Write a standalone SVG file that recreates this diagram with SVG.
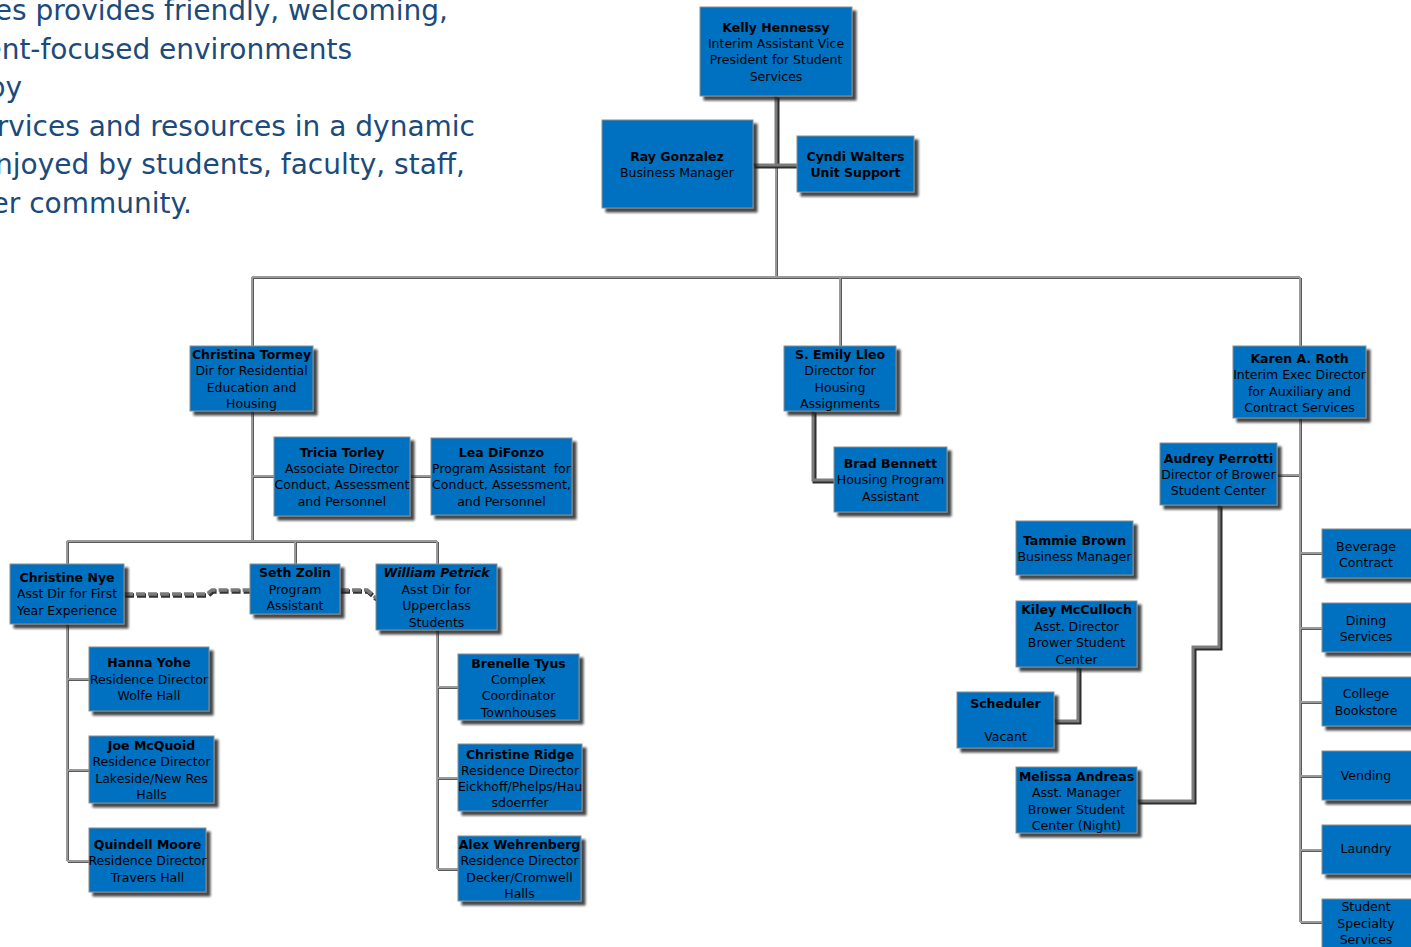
<svg xmlns="http://www.w3.org/2000/svg" width="1411" height="947" viewBox="0 0 1411 947">
  <defs>
    <filter id="sh" x="-10%" y="-10%" width="130%" height="130%">
      <feDropShadow dx="4" dy="4" stdDeviation="1.2" flood-color="#1a1a1a" flood-opacity="0.8"/>
    </filter>
  </defs>
  <style>
    .para { font-family: "DejaVu Sans", Verdana, sans-serif; font-size: 28px; fill: #1b4a7b; text-anchor: end; }
    .box { fill: #0070c0; stroke: #8c8c8c; stroke-width: 1; filter: url(#sh); }
    .t { font-family: "DejaVu Sans", Verdana, sans-serif; font-size: 12.5px; fill: #000; text-anchor: middle; }
    .b { font-weight: bold; }
    .bi { font-weight: bold; font-style: italic; }
    .thin-s { fill: none; stroke: #5a5a5a; stroke-width: 2; }
    .thin { fill: none; stroke: #9a9a9a; stroke-width: 2; }
    .thick-s { fill: none; stroke: #2e2e2e; stroke-width: 4; }
    .thick { fill: none; stroke: #7c7c7c; stroke-width: 3; }
    .dash-s { fill: none; stroke: #333; stroke-width: 4.5; stroke-dasharray: 9 3; }
    .dash { fill: none; stroke: #7a7a7a; stroke-width: 3.5; stroke-dasharray: 9 3; }
  </style>

  <!-- mission statement paragraph -->
  <g id="mission">
    <text class="para" x="448" y="20">es provides friendly, welcoming,</text>
    <text class="para" x="352" y="58.5">ent-focused environments</text>
    <text class="para" x="22" y="97">by</text>
    <text class="para" x="475" y="135.5">rvices and resources in a dynamic</text>
    <text class="para" x="465" y="174">njoyed by students, faculty, staff,</text>
    <text class="para" x="192" y="212.5">er community.</text>
  </g>

  <!-- connectors -->
  <g id="connectors">
    <g transform="translate(1,1)">
      <path class="thin-s" d="M776 165 V277 M252 277 H1300 M252 277 V346 M840 277 V346 M1300 277 V346 M252 411 V541 M252 476 H274 M410 476 H431 M67 541 H437 M67 541 V564 M295 541 V564 M437 541 V564 M67 624 V861 M67 679 H89 M67 770 H89 M67 861 H89 M437 630 V869 M437 687 H458 M437 778 H458 M437 869 H458 M1300 418 V922 M1277 475 H1300 M1300 553 H1322 M1300 628 H1322 M1300 702 H1322 M1300 776 H1322 M1300 850 H1322 M1300 922 H1322"/>
    </g>
    <path class="thin" d="M776 165 V277 M252 277 H1300 M252 277 V346 M840 277 V346 M1300 277 V346 M252 411 V541 M252 476 H274 M410 476 H431 M67 541 H437 M67 541 V564 M295 541 V564 M437 541 V564 M67 624 V861 M67 679 H89 M67 770 H89 M67 861 H89 M437 630 V869 M437 687 H458 M437 778 H458 M437 869 H458 M1300 418 V922 M1277 475 H1300 M1300 553 H1322 M1300 628 H1322 M1300 702 H1322 M1300 776 H1322 M1300 850 H1322 M1300 922 H1322"/>

    <g transform="translate(1.5,1.5)">
      <path class="thick-s" d="M776 96 V165 M753 165 H797 M813 411 V480 H834 M1078 667 V721 H1054 M1219 505 V647 H1193 V801 H1137"/>
    </g>
    <path class="thick" d="M776 96 V165 M753 165 H797 M813 411 V480 H834 M1078 667 V721 H1054 M1219 505 V647 H1193 V801 H1137"/>

    <g transform="translate(1,1.5)">
      <path class="dash-s" d="M124 594 H207 L212 590 H250 M340 590 H367 L376 598"/>
    </g>
    <path class="dash" d="M124 594 H207 L212 590 H250 M340 590 H367 L376 598"/>
  </g>

  <!-- nodes -->
  <g id="kelly-hennessy">
    <rect class="box" x="700" y="7" width="152" height="89"/>
    <text class="t"><tspan class="b" x="776" y="31.5">Kelly Hennessy</tspan><tspan x="776" y="47.5">Interim Assistant Vice</tspan><tspan x="776" y="63.5">President for Student</tspan><tspan x="776" y="80.5">Services</tspan></text>
  </g>
  <g id="ray-gonzalez">
    <rect class="box" x="602" y="120" width="151" height="88"/>
    <text class="t"><tspan class="b" x="677" y="160.5">Ray Gonzalez</tspan><tspan x="677" y="176.5">Business Manager</tspan></text>
  </g>
  <g id="cyndi-walters">
    <rect class="box" x="797" y="136" width="117" height="56"/>
    <text class="t b"><tspan x="855.5" y="160.5">Cyndi Walters</tspan><tspan x="855.5" y="176.5">Unit Support</tspan></text>
  </g>

  <g id="christina-tormey">
    <rect class="box" x="190" y="346" width="123" height="65"/>
    <text class="t"><tspan class="b" x="251.5" y="358.5">Christina Tormey</tspan><tspan x="251.5" y="374.5">Dir for Residential</tspan><tspan x="251.5" y="391.5">Education and</tspan><tspan x="251.5" y="407.5">Housing</tspan></text>
  </g>
  <g id="tricia-torley">
    <rect class="box" x="274" y="437" width="136" height="79"/>
    <text class="t"><tspan class="b" x="342" y="456.5">Tricia Torley</tspan><tspan x="342" y="472.5">Associate Director</tspan><tspan x="342" y="488.5">Conduct, Assessment</tspan><tspan x="342" y="505.5">and Personnel</tspan></text>
  </g>
  <g id="lea-difonzo">
    <rect class="box" x="431" y="438" width="141" height="77"/>
    <text class="t"><tspan class="b" x="501.5" y="456.5">Lea DiFonzo</tspan><tspan x="501.5" y="472.5" xml:space="preserve">Program Assistant  for</tspan><tspan x="501.5" y="488.5">Conduct, Assessment,</tspan><tspan x="501.5" y="505.5">and Personnel</tspan></text>
  </g>
  <g id="christine-nye">
    <rect class="box" x="10" y="564" width="114" height="60"/>
    <text class="t"><tspan class="b" x="67" y="581.5">Christine Nye</tspan><tspan x="67" y="597.5">Asst Dir for First</tspan><tspan x="67" y="614.5">Year Experience</tspan></text>
  </g>
  <g id="seth-zolin">
    <rect class="box" x="250" y="564" width="90" height="50"/>
    <text class="t"><tspan class="b" x="295" y="576.5">Seth Zolin</tspan><tspan x="295" y="593.5">Program</tspan><tspan x="295" y="609.5">Assistant</tspan></text>
  </g>
  <g id="william-petrick">
    <rect class="box" x="376" y="564" width="121" height="66"/>
    <text class="t"><tspan class="bi" x="436.5" y="576.5">William Petrick</tspan><tspan x="436.5" y="593.5">Asst Dir for</tspan><tspan x="436.5" y="609.5">Upperclass</tspan><tspan x="436.5" y="626.5">Students</tspan></text>
  </g>
  <g id="hanna-yohe">
    <rect class="box" x="89" y="647" width="120" height="64"/>
    <text class="t"><tspan class="b" x="149" y="666.5">Hanna Yohe</tspan><tspan x="149" y="683.5">Residence Director</tspan><tspan x="149" y="699.5">Wolfe Hall</tspan></text>
  </g>
  <g id="joe-mcquoid">
    <rect class="box" x="89" y="736" width="125" height="67"/>
    <text class="t"><tspan class="b" x="151.5" y="749.5">Joe McQuoid</tspan><tspan x="151.5" y="765.5">Residence Director</tspan><tspan x="151.5" y="782.5">Lakeside/New Res</tspan><tspan x="151.5" y="798.5">Halls</tspan></text>
  </g>
  <g id="quindell-moore">
    <rect class="box" x="89" y="828" width="117" height="64"/>
    <text class="t"><tspan class="b" x="147.5" y="848.5">Quindell Moore</tspan><tspan x="147.5" y="864.5">Residence Director</tspan><tspan x="147.5" y="881.5">Travers Hall</tspan></text>
  </g>
  <g id="brenelle-tyus">
    <rect class="box" x="458" y="654" width="121" height="66"/>
    <text class="t"><tspan class="b" x="518.5" y="667.5">Brenelle Tyus</tspan><tspan x="518.5" y="683.5">Complex</tspan><tspan x="518.5" y="699.5">Coordinator</tspan><tspan x="518.5" y="716.5">Townhouses</tspan></text>
  </g>
  <g id="christine-ridge">
    <rect class="box" x="458" y="744" width="124" height="67"/>
    <text class="t"><tspan class="b" x="520" y="758.5">Christine Ridge</tspan><tspan x="520" y="774.5">Residence Director</tspan><tspan x="520" y="790.5">Eickhoff/Phelps/Hau</tspan><tspan x="520" y="806.5">sdoerrfer</tspan></text>
  </g>
  <g id="alex-wehrenberg">
    <rect class="box" x="458" y="836" width="123" height="65"/>
    <text class="t"><tspan class="b" x="519.5" y="848.5">Alex Wehrenberg</tspan><tspan x="519.5" y="864.5">Residence Director</tspan><tspan x="519.5" y="881.5">Decker/Cromwell</tspan><tspan x="519.5" y="897.5">Halls</tspan></text>
  </g>

  <g id="emily-lleo">
    <rect class="box" x="784" y="346" width="112" height="65"/>
    <text class="t"><tspan class="b" x="840" y="358.5">S. Emily Lleo</tspan><tspan x="840" y="374.5">Director for</tspan><tspan x="840" y="391.5">Housing</tspan><tspan x="840" y="407.5">Assignments</tspan></text>
  </g>
  <g id="brad-bennett">
    <rect class="box" x="834" y="447" width="113" height="65"/>
    <text class="t"><tspan class="b" x="890.5" y="467.5">Brad Bennett</tspan><tspan x="890.5" y="483.5">Housing Program</tspan><tspan x="890.5" y="500.5">Assistant</tspan></text>
  </g>

  <g id="karen-roth">
    <rect class="box" x="1233" y="346" width="133" height="72"/>
    <text class="t"><tspan class="b" x="1299.5" y="362.5">Karen A. Roth</tspan><tspan x="1299.5" y="378.5">Interim Exec Director</tspan><tspan x="1299.5" y="395.5">for Auxiliary and</tspan><tspan x="1299.5" y="411.5">Contract Services</tspan></text>
  </g>
  <g id="audrey-perrotti">
    <rect class="box" x="1160" y="443" width="117" height="62"/>
    <text class="t"><tspan class="b" x="1218.5" y="462.5">Audrey Perrotti</tspan><tspan x="1218.5" y="478.5">Director of Brower</tspan><tspan x="1218.5" y="494.5">Student Center</tspan></text>
  </g>
  <g id="tammie-brown">
    <rect class="box" x="1016" y="521" width="117" height="54"/>
    <text class="t"><tspan class="b" x="1074.5" y="544.5">Tammie Brown</tspan><tspan x="1074.5" y="560.5">Business Manager</tspan></text>
  </g>
  <g id="kiley-mcculloch">
    <rect class="box" x="1016" y="601" width="121" height="66"/>
    <text class="t"><tspan class="b" x="1076.5" y="613.5">Kiley McCulloch</tspan><tspan x="1076.5" y="630.5">Asst. Director</tspan><tspan x="1076.5" y="646.5">Brower Student</tspan><tspan x="1076.5" y="663.5">Center</tspan></text>
  </g>
  <g id="scheduler">
    <rect class="box" x="957" y="692" width="97" height="56"/>
    <text class="t"><tspan class="b" x="1005.5" y="707.5">Scheduler</tspan><tspan x="1005.5" y="740.5">Vacant</tspan></text>
  </g>
  <g id="melissa-andreas">
    <rect class="box" x="1016" y="767" width="121" height="66"/>
    <text class="t"><tspan class="b" x="1076.5" y="780.5">Melissa Andreas</tspan><tspan x="1076.5" y="796.5">Asst. Manager</tspan><tspan x="1076.5" y="813.5">Brower Student</tspan><tspan x="1076.5" y="829.5">Center (Night)</tspan></text>
  </g>

  <g id="beverage-contract">
    <rect class="box" x="1322" y="529" width="90" height="49"/>
    <text class="t"><tspan x="1366" y="550.5">Beverage</tspan><tspan x="1366" y="566.5">Contract</tspan></text>
  </g>
  <g id="dining-services">
    <rect class="box" x="1322" y="603" width="90" height="49"/>
    <text class="t"><tspan x="1366" y="624.5">Dining</tspan><tspan x="1366" y="640.5">Services</tspan></text>
  </g>
  <g id="college-bookstore">
    <rect class="box" x="1322" y="677" width="90" height="49"/>
    <text class="t"><tspan x="1366" y="697.5">College</tspan><tspan x="1366" y="714.5">Bookstore</tspan></text>
  </g>
  <g id="vending">
    <rect class="box" x="1322" y="751" width="90" height="49"/>
    <text class="t"><tspan x="1366" y="779.5">Vending</tspan></text>
  </g>
  <g id="laundry">
    <rect class="box" x="1322" y="825" width="90" height="49"/>
    <text class="t"><tspan x="1366" y="852.5">Laundry</tspan></text>
  </g>
  <g id="student-specialty-services">
    <rect class="box" x="1322" y="899" width="90" height="60"/>
    <text class="t"><tspan x="1366" y="910.5">Student</tspan><tspan x="1366" y="927.5">Specialty</tspan><tspan x="1366" y="943.5">Services</tspan></text>
  </g>
</svg>
